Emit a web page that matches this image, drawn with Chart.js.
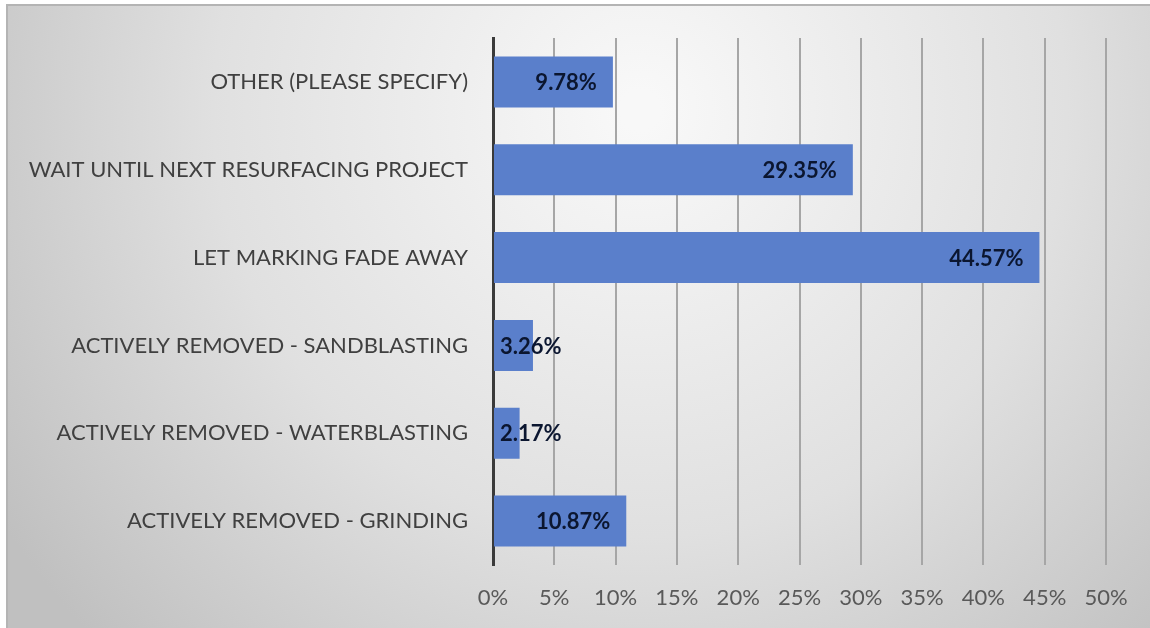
<!DOCTYPE html>
<html>
<head>
<meta charset="utf-8">
<script src="https://cdn.jsdelivr.net/npm/chart.js@4"></script>
<style>
  html, body { margin: 0; padding: 0; background: #fff; }
  #wrap { width: 1150px; height: 628px; }
</style>
</head>
<body>
<div id="wrap"><canvas id="bar-chart" width="1150" height="628"></canvas></div>
<script>
// How old markings get removed (share of responses)

const categories = [
  "OTHER (PLEASE SPECIFY)",
  "WAIT UNTIL NEXT RESURFACING PROJECT",
  "LET MARKING FADE AWAY",
  "ACTIVELY REMOVED - SANDBLASTING",
  "ACTIVELY REMOVED - WATERBLASTING",
  "ACTIVELY REMOVED - GRINDING"
];
const shares = [9.78, 29.35, 44.57, 3.26, 2.17, 10.87];
const xTicks = [0, 5, 10, 15, 20, 25, 30, 35, 40, 45, 50];

const FONT = "Lato, 'Open Sans', sans-serif";

// grey panel with a soft light spot near the top
const panel = {
  id: 'panel',
  beforeDraw(chart) {
    const ctx = chart.ctx;
    ctx.save();
    ctx.fillStyle = '#ffffff';
    ctx.fillRect(0, 0, chart.width, chart.height);
    const g = ctx.createRadialGradient(640, 110, 20, 640, 110, 760);
    g.addColorStop(0, '#f8f8f8');
    g.addColorStop(0.55, '#e0e0e0');
    g.addColorStop(1, '#c0c0c0');
    ctx.fillStyle = g;
    ctx.fillRect(7, 5, chart.width - 7, chart.height - 5);
    ctx.strokeStyle = '#b4b4b4';
    ctx.lineWidth = 2;
    ctx.beginPath();
    ctx.moveTo(7, chart.height);
    ctx.lineTo(7, 5);
    ctx.lineTo(chart.width, 5);
    ctx.stroke();
    ctx.restore();
  }
};

// value labels at the inside end of each bar
const valueLabels = {
  id: 'valueLabels',
  afterDatasetsDraw(chart) {
    const ctx = chart.ctx;
    const meta = chart.getDatasetMeta(0);
    ctx.save();
    ctx.font = "bold 22px " + FONT;
    ctx.fillStyle = '#0b1630';
    ctx.textBaseline = 'middle';
    ctx.textAlign = 'left';
    meta.data.forEach((bar, i) => {
      const txt = shares[i].toFixed(2) + '%';
      const w = ctx.measureText(txt).width;
      let x = bar.x - 16 - w;
      if (x < bar.base + 6) x = bar.base + 6;
      ctx.fillText(txt, x, bar.y + 1);
    });
    ctx.restore();
  }
};

new Chart(document.getElementById("bar-chart"), {
  type: 'bar',
  data: {
    labels: categories,
    datasets: [{
      data: shares,
      backgroundColor: '#5a7fcb',
      borderWidth: 0,
      barPercentage: 0.58,
      categoryPercentage: 1
    }]
  },
  options: {
    indexAxis: 'y',
    responsive: false,
    animation: false,
    layout: { padding: { top: 38, right: 44, left: 0, bottom: 0 } },
    plugins: {
      legend: { display: false },
      tooltip: { enabled: false }
    },
    scales: {
      x: {
        min: 0,
        max: 50,
        afterBuildTicks(scale) {
          scale.ticks = xTicks.map(v => ({ value: v }));
        },
        afterFit(scale) { scale.height = 63; },
        border: { display: false },
        grid: {
          color: ctx => ctx.tick && ctx.tick.value === 0 ? 'rgba(0,0,0,0)' : '#a6a6a6',
          lineWidth: 2,
          drawTicks: false
        },
        ticks: {
          padding: 20,
          color: '#595959',
          font: { family: FONT, size: 22 },
          callback: v => v + '%'
        }
      },
      y: {
        afterFit(scale) { scale.width = 493; },
        border: { display: true, color: '#3a3a3a', width: 3 },
        grid: { display: false },
        ticks: {
          padding: 17,
          color: '#404040',
          font: { family: FONT, size: 22 }
        }
      }
    }
  },
  plugins: [panel, valueLabels]
});
</script>
</body>
</html>
